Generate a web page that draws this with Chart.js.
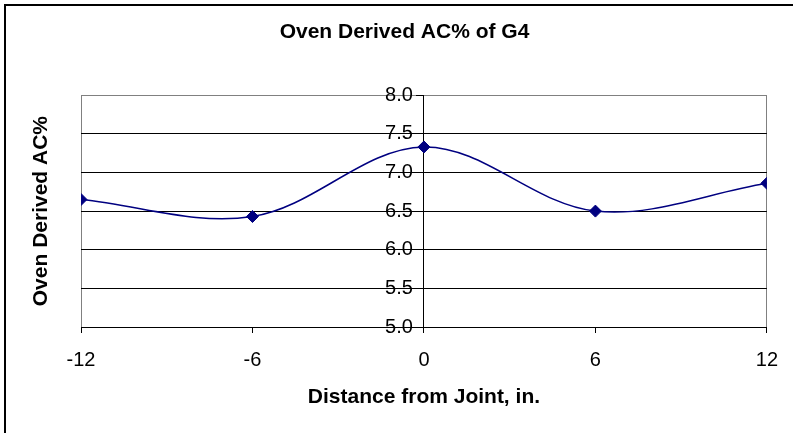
<!DOCTYPE html>
<html>
<head>
<meta charset="utf-8">
<script src="https://cdn.jsdelivr.net/npm/chart.js@4"></script>
<style>
  html, body { margin: 0; padding: 0; background: #fff; }
  #wrap { width: 793px; height: 433px; }
</style>
</head>
<body>
<div id="wrap"><canvas id="c" width="793" height="433"></canvas></div>
<script>
// Distance from the joint (in.) and oven-derived asphalt content (%)
const distances = [-12, -6, 0, 6, 12];
const acPercent = [6.65, 6.43, 7.33, 6.50, 6.86];
const yTickMin = 5.0;
const yTickMax = 8.0;
const yTickStep = 0.5;
const xTickStep = 6;

const chartTitle = 'Oven Derived AC% of G4';
const xTitle = 'Distance from Joint, in.';
const yTitle = 'Oven Derived AC%';

const FONT = 'Arial, "Liberation Sans", sans-serif';
const GREY = '#808080';

// Black frame around the chart (left and top edges sit inside the canvas)
const framePlugin = {
  id: 'frame',
  beforeDraw(chart) {
    const ctx = chart.ctx;
    ctx.save();
    ctx.fillStyle = '#fff';
    ctx.fillRect(0, 0, chart.width, chart.height);
    ctx.strokeStyle = '#000';
    ctx.lineWidth = 2;
    ctx.strokeRect(5, 5, chart.width + 20, chart.height + 20);
    ctx.restore();
  }
};

new Chart(document.getElementById('c'), {
  type: 'line',
  data: {
    datasets: [{
      data: distances.map((d, i) => ({ x: d, y: acPercent[i] })),
      xAxisID: 'x',
      yAxisID: 'y',
      borderColor: '#000080',
      borderWidth: 1.5,
      tension: 0.35,
      fill: false,
      pointStyle: 'rectRot',
      pointRadius: 6,
      pointHoverRadius: 6,
      pointBackgroundColor: '#000080',
      pointBorderColor: '#000080',
      pointBorderWidth: 1
    }]
  },
  plugins: [framePlugin],
  options: {
    responsive: false,
    animation: false,
    layout: { padding: { left: 16, right: 0, top: 0, bottom: 0 } },
    plugins: {
      legend: { display: false },
      tooltip: { enabled: false },
      title: {
        display: true,
        text: chartTitle,
        color: '#000',
        font: { family: FONT, size: 21, weight: 'bold' },
        padding: { top: 20, bottom: 50 }
      }
    },
    scales: {
      x: {
        type: 'linear',
        position: 'bottom',
        min: distances[0],
        max: distances[distances.length - 1],
        afterFit(s) { s.height = 106; },
        ticks: {
          stepSize: xTickStep,
          color: '#000',
          font: { family: FONT, size: 20 },
          padding: 15,
          maxRotation: 0
        },
        grid: {
          color: (c) => (c.tick && (c.tick.value === distances[0] || c.tick.value === distances[distances.length - 1])) ? GREY : 'rgba(0,0,0,0)',
          tickColor: '#000',
          tickLength: 6,
          lineWidth: 1
        },
        border: { display: true, color: '#000', width: 1 },
        title: {
          display: true,
          text: xTitle,
          color: '#000',
          font: { family: FONT, size: 21, weight: 'bold' },
          padding: { top: 0, bottom: 23 }
        }
      },
      yTitleAxis: {
        type: 'linear',
        position: 'left',
        min: yTickMin,
        max: yTickMax,
        afterFit(s) { s.width = 65; },
        ticks: { display: false },
        grid: { display: false },
        border: { display: false },
        title: {
          display: true,
          text: yTitle,
          color: '#000',
          font: { family: FONT, size: 21, weight: 'bold' },
          padding: { top: 13, bottom: 0 }
        }
      },
      yRightGap: {
        type: 'linear',
        position: 'right',
        min: yTickMin,
        max: yTickMax,
        afterFit(s) { s.width = 23; },
        ticks: { display: false },
        grid: { display: false },
        border: { display: false }
      },
      y: {
        type: 'linear',
        position: { x: 0 },
        min: yTickMin,
        max: yTickMax,
        ticks: {
          stepSize: yTickStep,
          color: '#000',
          font: { family: FONT, size: 20 },
          callback: (v) => Number(v).toFixed(1) + '  '
        },
        grid: {
          color: (c) => (c.tick && c.tick.value === yTickMax) ? GREY : '#000',
          tickColor: '#000',
          tickLength: 7,
          lineWidth: 1
        },
        border: { display: true, color: '#000', width: 1 }
      }
    }
  }
});
</script>
</body>
</html>
